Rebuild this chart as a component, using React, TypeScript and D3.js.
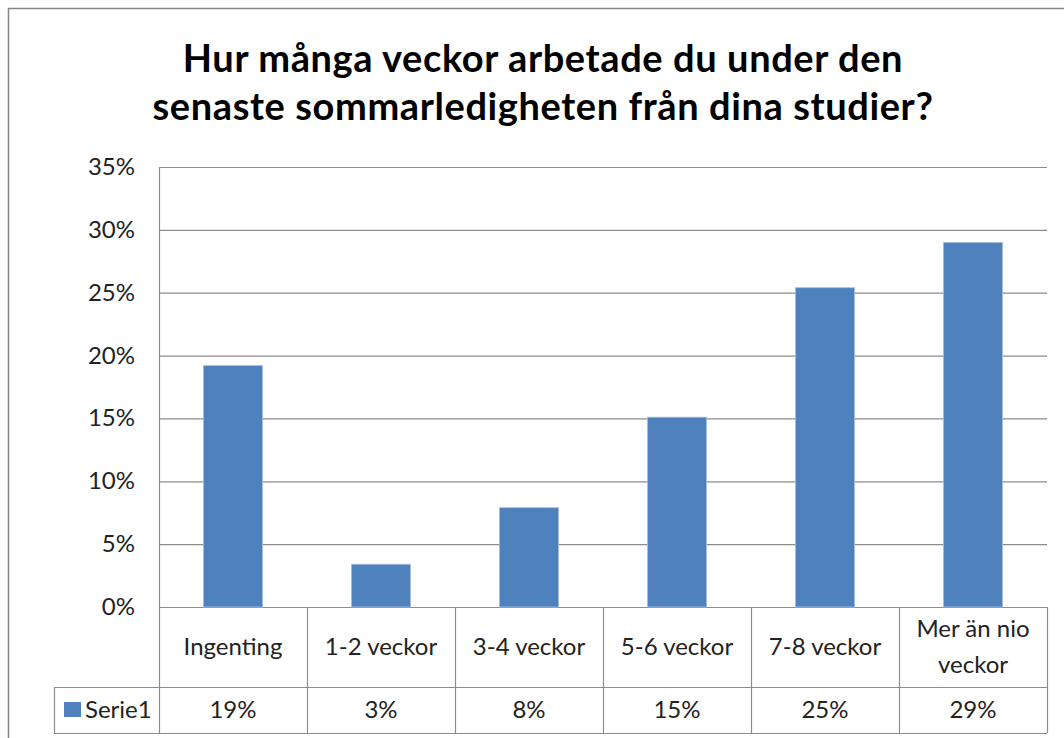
import React from 'react';
import * as d3 from 'd3';

const categories = ['Ingenting', '1-2 veckor', '3-4 veckor', '5-6 veckor', '7-8 veckor', 'Mer än nio veckor'];
const categoryLines = [['Ingenting'], ['1-2 veckor'], ['3-4 veckor'], ['5-6 veckor'], ['7-8 veckor'], ['Mer än nio', 'veckor']];
const serie1 = [0.192, 0.034, 0.079, 0.151, 0.254, 0.29];
const serie1Labels = ['19%', '3%', '8%', '15%', '25%', '29%'];
const yTicks = [0, 0.05, 0.1, 0.15, 0.2, 0.25, 0.3, 0.35];
const seriesName = 'Serie1';
const titleLines = ['Hur många veckor arbetade du under den', 'senaste sommarledigheten från dina studier?'];

const FONT = 'Lato, "Open Sans", sans-serif';

const App = () => {
  const left = 159;
  const right = 1047;
  const top = 167;
  const bottom = 607;
  const catRowBottom = 687;
  const serRowBottom = 733;
  const tableLeft = 54;

  const x = d3.scaleBand().domain(categories).range([left, right]).paddingInner(0).paddingOuter(0);
  const y = d3.scaleLinear().domain([0, 0.35]).range([bottom, top]);
  const barW = x.bandwidth() * 0.4;
  const fmt = d3.format('.0%');
  const lineCol = '#8c8c8c';

  return (
    <svg width={1064} height={738} style={{ position: 'absolute', left: 0, top: 0, background: '#fff' }}>
      <rect x={8.5} y={8.5} width={1070} height={740} fill="#fff" stroke="#868686" strokeWidth={1.5} />

      {/* title */}
      <g fontFamily={FONT} fontWeight="bold" fontSize={38} letterSpacing={0.6} textAnchor="middle" fill="#000">
        {titleLines.map((t, i) => (
          <text key={i} x={543} y={72 + i * 48}>{t}</text>
        ))}
      </g>

      {/* gridlines + y labels */}
      {yTicks.map((t) => (
        <g key={t}>
          <line x1={left} x2={right} y1={y(t) + 0.5} y2={y(t) + 0.5} stroke={lineCol} strokeWidth={1.2} />
          <text x={135} y={y(t) + 8} textAnchor="end" fontFamily={FONT} fontSize={24} fill="#222">{fmt(t)}</text>
        </g>
      ))}
      <line x1={left + 0.5} x2={left + 0.5} y1={top} y2={serRowBottom} stroke={lineCol} strokeWidth={1.2} />

      {/* bars */}
      {categories.map((c, i) => (
        <rect key={c} x={(x(c) as number) + (x.bandwidth() - barW) / 2} y={y(serie1[i])} width={barW}
          height={y(0) - y(serie1[i])} fill="#4f81bd" stroke="#a7c0de" strokeWidth={0.8} />
      ))}

      {/* data table */}
      <g stroke={lineCol} strokeWidth={1.2}>
        {categories.map((c) => (
          <line key={c} x1={(x(c) as number) + x.bandwidth() + 0.5} x2={(x(c) as number) + x.bandwidth() + 0.5} y1={bottom} y2={serRowBottom} />
        ))}
        <line x1={tableLeft} x2={right} y1={catRowBottom + 0.5} y2={catRowBottom + 0.5} />
        <line x1={tableLeft} x2={right} y1={serRowBottom + 0.5} y2={serRowBottom + 0.5} />
        <line x1={tableLeft + 0.5} x2={tableLeft + 0.5} y1={catRowBottom} y2={serRowBottom} />
      </g>
      <g fontFamily={FONT} fontSize={24} fill="#222" textAnchor="middle">
        {categories.map((c, i) => {
          const cx = (x(c) as number) + x.bandwidth() / 2;
          const lines = categoryLines[i];
          const mid = (bottom + catRowBottom) / 2;
          return (
            <g key={c}>
              {lines.map((l, j) => (
                <text key={j} x={cx} y={mid + 8 + (j - (lines.length - 1) / 2) * 36}>{l}</text>
              ))}
              <text x={cx} y={718}>{serie1Labels[i]}</text>
            </g>
          );
        })}
      </g>
      <rect x={64} y={702} width={17} height={15} fill="#4f81bd" />
      <text x={85} y={718} fontFamily={FONT} fontSize={24} fill="#222">{seriesName}</text>
    </svg>
  );
};

export default App;
